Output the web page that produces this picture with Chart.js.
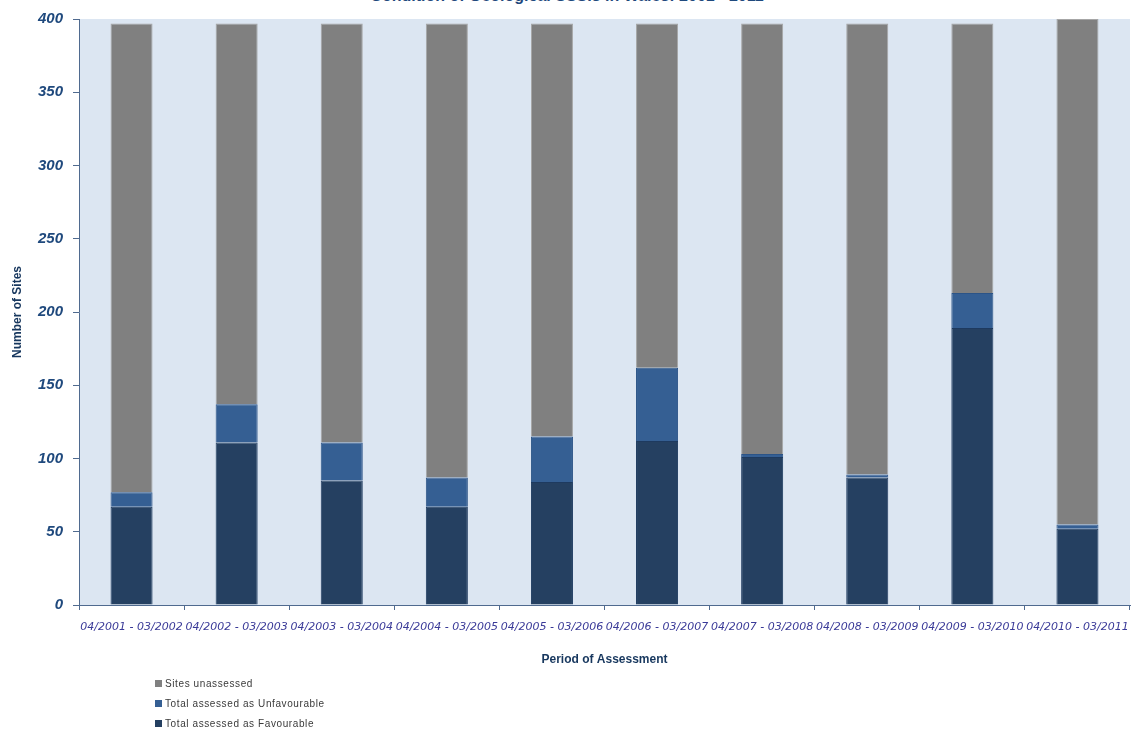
<!DOCTYPE html>
<html><head><meta charset="utf-8">
<script src="https://cdn.jsdelivr.net/npm/chart.js@4"></script>
<style>
html,body{margin:0;padding:0;background:#fff;overflow:hidden;}
#wrap{position:relative;width:1134px;height:733px;overflow:hidden;}
#title{position:absolute;left:0;width:1134px;top:-12px;text-align:center;font:bold 16px/16px "Liberation Sans",Arial,sans-serif;color:#1f497d;}
#c{position:absolute;left:0;top:0;}
#legend{position:absolute;left:155px;top:673px;font:10px "Liberation Sans",Arial,sans-serif;color:#3a3a3a;letter-spacing:0.6px;}
.item{height:20px;display:flex;align-items:center;}
.sw{width:7px;height:7px;margin-right:3px;display:inline-block;}
</style></head>
<body>
<div id="wrap">
<div id="title">Condition of Geological SSSIs in Wales: 2001 - 2011</div>
<canvas id="c" width="1134" height="733"></canvas>
<div id="legend"></div>
</div>
<script>
const categories = ['04/2001 - 03/2002','04/2002 - 03/2003','04/2003 - 03/2004','04/2004 - 03/2005','04/2005 - 03/2006','04/2006 - 03/2007','04/2007 - 03/2008','04/2008 - 03/2009','04/2009 - 03/2010','04/2010 - 03/2011'];
const favourable   = [67, 111, 85, 67, 84, 112, 101, 87, 189, 52];
const unfavourable = [10, 26, 26, 20, 31, 50, 2, 2, 24, 3];
const unassessed   = [320, 260, 286, 310, 282, 235, 294, 308, 184, 345];
const yTicks = [0, 50, 100, 150, 200, 250, 300, 350, 400];

const bgPlugin = {
  id: 'plotBg',
  beforeDraw(chart) {
    const {ctx, chartArea: a} = chart;
    ctx.save();
    ctx.fillStyle = '#dce6f2';
    ctx.fillRect(a.left, a.top, a.right - a.left, a.bottom - a.top);
    ctx.restore();
  }
};

const datasets = [
  {label: 'Total assessed as Favourable', data: favourable, backgroundColor: '#254061', borderColor: '#1e3a5f', borderWidth: 1},
  {label: 'Total assessed as Unfavourable', data: unfavourable, backgroundColor: '#355f93', borderColor: '#2c5487', borderWidth: 1},
  {label: 'Sites unassessed', data: unassessed, backgroundColor: '#808080', borderColor: '#a6a6a6', borderWidth: 1}
];

new Chart(document.getElementById('c'), {
  type: 'bar',
  data: {labels: categories, datasets: datasets},
  plugins: [bgPlugin],
  options: {
    responsive: false,
    animation: false,
    layout: {padding: {top: 18, right: 4, bottom: 62, left: 0}},
    datasets: {bar: {barPercentage: 0.4, categoryPercentage: 1.0}},
    plugins: {legend: {display: false}, title: {display: false}, tooltip: {enabled: false}},
    scales: {
      x: {
        stacked: true,
        afterFit: s => { s.height = 66; s.paddingLeft = 0; s.paddingRight = 0; },
        grid: {offset: true, drawOnChartArea: false, drawTicks: true, tickLength: 5, color: '#4f6a8f'},
        border: {display: true, color: '#4f6a8f', width: 1},
        ticks: {autoSkip: false, maxRotation: 0, minRotation: 0, padding: 11, color: '#3a3a98',
                font: {family: '"DejaVu Sans", sans-serif', size: 11, style: 'italic'}},
        title: {display: true, text: 'Period of Assessment', color: '#17375e', padding: {top: 4, bottom: 4},
                font: {family: '"Liberation Sans", Arial, sans-serif', size: 12, weight: 'bold'}}
      },
      y: {
        stacked: true,
        min: 0, max: 400,
        afterFit: s => { s.width = 79; },
        afterBuildTicks: s => { s.ticks = yTicks.map(v => ({value: v})); },
        grid: {drawOnChartArea: false, drawTicks: true, tickLength: 6, color: '#4f6a8f'},
        border: {display: true, color: '#4f6a8f', width: 1},
        ticks: {padding: 10, color: '#1f497d',
                font: {family: '"Liberation Sans", Arial, sans-serif', size: 15, style: 'italic', weight: 'bold'}},
        title: {display: true, text: 'Number of Sites', color: '#17375e', padding: {top: 10, bottom: 4},
                font: {family: '"Liberation Sans", Arial, sans-serif', size: 12, weight: 'bold'}}
      }
    }
  }
});

const leg = document.getElementById('legend');
datasets.slice().reverse().forEach(d => {
  const it = document.createElement('div');
  it.className = 'item';
  const sw = document.createElement('span');
  sw.className = 'sw';
  sw.style.background = d.backgroundColor;
  it.appendChild(sw);
  it.appendChild(document.createTextNode(d.label));
  leg.appendChild(it);
});
</script>
</body></html>
